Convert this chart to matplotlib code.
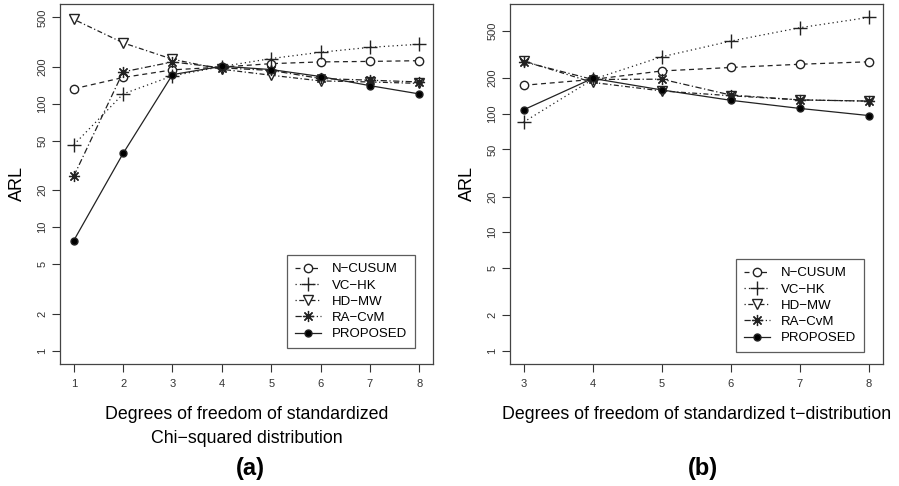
import matplotlib
matplotlib.use("Agg")
import matplotlib.pyplot as plt
from matplotlib.ticker import FixedLocator, NullLocator

plt.rcParams['font.family'] = ['Liberation Sans', 'DejaVu Sans']

# data
methods = ["N\u2212CUSUM", "VC\u2212HK", "HD\u2212MW", "RA\u2212CvM", "PROPOSED"]

df_chi = [1, 2, 3, 4, 5, 6, 7, 8]
chi_ncusum = [132, 163, 188, 198, 211, 218, 220, 223]
chi_vchk = [46.5, 120, 168, 200, 232, 261, 286, 303]
chi_hdmw = [482, 311, 229, 190, 170, 153, 150, 146]
chi_racvm = [25.9, 181, 218, 195, 186, 160, 155, 150]
chi_prop = [7.8, 39.6, 172, 201, 189, 166, 140, 120]

df_t = [3, 4, 5, 6, 7, 8]
t_ncusum = [174, 195, 230, 246, 262, 275]
t_vchk = [85, 195, 303, 411, 533, 652]
t_hdmw = [280, 184, 156, 142, 131, 128]
t_racvm = [275, 195, 196, 144, 131, 128]
t_prop = [108, 199, 159, 130, 111, 96.6]

yticks = [1, 2, 5, 10, 20, 50, 100, 200, 500]

styles = [
    dict(ls=(0, (4, 3)), marker='o', mfc='white', ms=6),
    dict(ls=(0, (1, 2.5)), marker='+', ms=10, mew=1.0),
    dict(ls=(0, (1, 2, 4, 2)), marker='v', mfc='white', ms=7),
    dict(ls=(0, (5, 2, 1, 2)), marker=(8, 2, 0), ms=8, mew=0.9),
    dict(ls='-', marker='o', mfc='black', ms=5),
]


def panel(ax, x, series, ylim, xlabel, anchor):
    for s, lab, st in zip(series, methods, styles):
        ax.plot(x, s, color='#222222', lw=0.9, mec='#222222', label=lab, **st)
    ax.set_yscale('log')
    ax.set_ylim(*ylim)
    pad = 0.04 * (x[-1] - x[0])
    ax.set_xlim(x[0] - pad, x[-1] + pad)
    ax.yaxis.set_major_locator(FixedLocator(yticks))
    ax.yaxis.set_minor_locator(NullLocator())
    ax.set_yticklabels([str(v) for v in yticks], rotation=90, va='center')
    ax.set_xticks(x)
    ax.tick_params(direction='out', length=6, width=0.8, labelsize=8, colors='#333333')
    ax.tick_params(axis='y', pad=3)
    ax.tick_params(axis='x', pad=5)
    for sp in ax.spines.values():
        sp.set_color('#444444')
        sp.set_linewidth(0.9)
    ax.set_ylabel("ARL", fontsize=13, labelpad=8)
    ax.set_xlabel(xlabel, fontsize=12.8, labelpad=12, linespacing=1.55)
    leg = ax.legend(loc='lower right', bbox_to_anchor=anchor, borderaxespad=0, fontsize=9.5,
                    frameon=True, fancybox=False, handlelength=2.0, labelspacing=0.3,
                    borderpad=0.6, handletextpad=0.8, edgecolor='#333333')
    leg.get_frame().set_linewidth(0.9)


fig = plt.figure(figsize=(8.99, 4.86), dpi=100)
ax1 = fig.add_axes([0.0667, 0.251, 0.415, 0.741])
ax2 = fig.add_axes([0.567, 0.251, 0.415, 0.741])

panel(ax1, df_chi, [chi_ncusum, chi_vchk, chi_hdmw, chi_racvm, chi_prop], (0.78, 643),
      "Degrees of freedom of standardized\nChi\u2212squared distribution", (0.952, 0.044))
panel(ax2, df_t, [t_ncusum, t_vchk, t_hdmw, t_racvm, t_prop], (0.772, 847),
      "Degrees of freedom of standardized t\u2212distribution", (0.949, 0.033))

fig.text(0.278, 1 - 468 / 486, "(a)", fontsize=17, fontweight='bold', ha='center', va='center')
fig.text(0.782, 1 - 468 / 486, "(b)", fontsize=17, fontweight='bold', ha='center', va='center')

fig.savefig("out.png", dpi=100)
